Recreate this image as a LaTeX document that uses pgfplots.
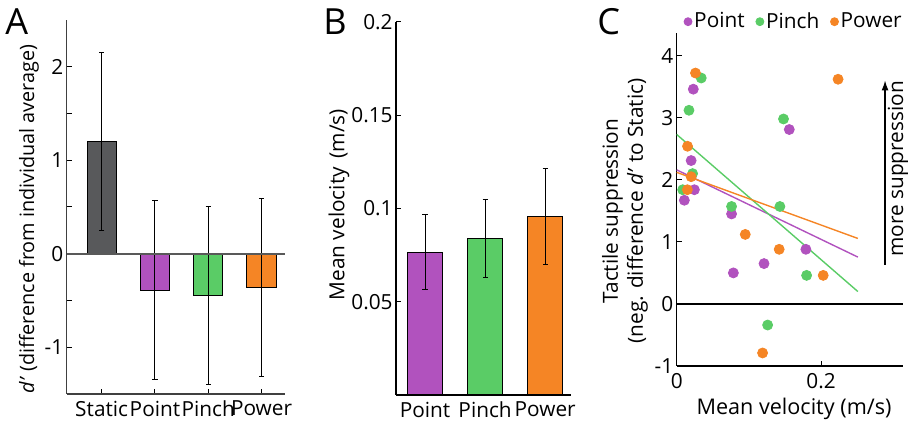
\documentclass[border=0pt]{standalone}
\usepackage{fontspec}
\setmainfont{Open Sans}
\usepackage{pgfplots}
\pgfplotsset{compat=1.18}
\usetikzlibrary{arrows.meta}
\definecolor{cgray}{RGB}{88,89,91}
\definecolor{cpurple}{RGB}{177,82,190}
\definecolor{cgreen}{RGB}{90,204,102}
\definecolor{corange}{RGB}{245,133,37}
\newcommand{\fs}{\fontsize{10.4}{12.5}\selectfont}
\pgfplotsset{
  myaxis/.style={
    scale only axis, clip=false,
    axis x line*=bottom, axis y line*=left,
    axis line style={-, line width=0.6pt},
    tick align=inside, major tick length=2.5pt, minor tick length=2.5pt,
    tick style={line width=0.5pt, black},
    /pgf/number format/assume math mode=true,
    font=\fs, ticklabel style={font=\fs}, label style={font=\fs},
    error bars/error bar style={line width=0.5pt, black},
    error bars/error mark options={rotate=90, mark size=1.3pt, line width=0.5pt, black},
  },
  mybar/.style={ybar, bar shift=0pt, draw=black, line width=0.5pt, fill=#1,
    error bars/.cd, y dir=both, y explicit},
}
\begin{document}
\begin{tikzpicture}
\useasboundingbox (0,0) rectangle (454pt,211pt);
% ---------- Panel A ----------
\begin{axis}[myaxis, at={(33.35pt,14pt)}, anchor=south west,
  width=109.15pt, height=187pt,
  xmin=0.344, xmax=4.44, ymin=-1.5, ymax=2.5,
  axis line style={black!75},
  xtick={1,2,3,4}, xticklabels={Static,Point,Pinch,Power},
  ytick={-1,0,1,2}, minor ytick={-0.5,0.5,1.5},
  yticklabel style={inner sep=1.5pt},
  ylabel={\textit{d’} (difference from individual average)},
  ylabel style={at={(axis description cs:-0.173,0.468)}, anchor=center,
    font=\fontsize{9.9}{12}\selectfont},
  bar width=14.6pt]
\addplot[mybar=cgray] coordinates {(1,1.2) +- (0,0.955)};
\addplot[mybar=cpurple] coordinates {(2,-0.39) +- (0,0.955)};
\addplot[mybar=cgreen] coordinates {(3,-0.445) +- (0,0.955)};
\addplot[mybar=corange] coordinates {(4,-0.36) +- (0,0.955)};
\draw[line width=1pt, black!65] (axis cs:0.344,0) -- (axis cs:4.44,0);
\end{axis}
\node[anchor=base west, inner sep=0pt, font=\fontsize{18}{20}\selectfont] at (2.5pt,193.5pt) {A};
% ---------- Panel B ----------
\begin{axis}[myaxis, at={(198pt,13.5pt)}, anchor=south west,
  width=87.5pt, height=186.65pt,
  xmin=0.517, xmax=3.43, ymin=0, ymax=0.2,
  xtick={1,2,3}, xticklabels={Point,Pinch,Power}, major x tick style={draw=none},
  ytick={0.05,0.1,0.15,0.2},
  yticklabel style={inner sep=1.5pt, /pgf/number format/fixed},
  ylabel={Mean velocity\, (m/s)},
  ylabel style={at={(axis description cs:-0.326,0.51)}, anchor=center},
  bar width=17.2pt]
\addplot[mybar=cpurple] coordinates {(1,0.0766) +- (0,0.020)};
\addplot[mybar=cgreen] coordinates {(2,0.084) +- (0,0.021)};
\addplot[mybar=corange] coordinates {(3,0.0955) +- (0,0.0257)};
\end{axis}
\node[anchor=base west, inner sep=0pt, font=\fontsize{18}{20}\selectfont] at (161.5pt,193.5pt) {B};
% ---------- Panel C ----------
\begin{axis}[myaxis, at={(338.35pt,28pt)}, anchor=south west,
  width=113.3pt, height=166.65pt,
  xmin=0, xmax=0.314, ymin=-1, ymax=4.37,
  xtick={0,0.2}, ytick={-1,0,1,2,3,4},
  yticklabel style={inner sep=1.5pt},
  xlabel={Mean velocity (m/s)},
  xlabel style={yshift=2pt, xshift=2pt, font=\fontsize{10.8}{12.5}\selectfont},
  ylabel={Tactile suppression\\(neg. difference \textit{d’} to Static)},
  ylabel style={align=center, at={(axis description cs:-0.228,0.465)}, anchor=center},
  legend style={at={(rel axis cs:1,1)}, anchor=south east, draw=none, fill=none,
    inner sep=0pt, font=\fs, nodes={inner sep=0.6pt},
    /tikz/every odd column/.append style={column sep=0.5pt},
    /tikz/every even column/.append style={column sep=5pt}},
  legend columns=3,
  legend image code/.code={\draw[#1] plot coordinates {(0pt,0pt)};}]
\addlegendimage{only marks, mark=*, mark size=2pt, cpurple}
\addlegendimage{only marks, mark=*, mark size=2pt, cgreen}
\addlegendimage{only marks, mark=*, mark size=2pt, corange}
\legend{Point,Pinch,Power}
\draw[line width=0.6pt, black] (axis cs:0,0) -- (axis cs:0.314,0);
% Point
\addplot[forget plot, only marks, mark=*, mark size=2.5pt, cpurple] coordinates {
(0.023,3.46) (0.020,2.31) (0.0245,1.84) (0.0106,1.67) (0.156,2.81)
(0.076,1.45) (0.0785,0.50) (0.121,0.65) (0.179,0.88)};
% Pinch
\addplot[forget plot, only marks, mark=*, mark size=2.5pt, cgreen] coordinates {
(0.034,3.64) (0.017,3.12) (0.022,2.10) (0.0083,1.84) (0.148,2.98)
(0.076,1.57) (0.143,1.57) (0.180,0.46) (0.126,-0.34)};
% Power
\addplot[forget plot, only marks, mark=*, mark size=2.5pt, corange] coordinates {
(0.026,3.72) (0.015,2.54) (0.020,2.05) (0.0148,1.84) (0.095,1.12)
(0.142,0.88) (0.203,0.46) (0.2236,3.62) (0.119,-0.79)};
% fits
\addplot[forget plot, cpurple, line width=0.7pt] coordinates {(0,2.16) (0.251,0.755)};
\addplot[forget plot, cgreen, line width=0.7pt] coordinates {(0,2.73) (0.251,0.20)};
\addplot[forget plot, corange, line width=0.7pt] coordinates {(0,2.12) (0.251,1.055)};
% annotation
\draw[line width=0.6pt, -{Latex[length=5pt,width=3.5pt]}] (axis cs:0.2887,0.63) -- (axis cs:0.2887,3.6);
\node[rotate=90, anchor=base, inner sep=0pt, font=\fs] at (axis cs:0.3137,2.175) {more suppression};
\end{axis}
\node[anchor=base west, inner sep=0pt, font=\fontsize{18}{20}\selectfont] at (298.5pt,193.5pt) {C};
\end{tikzpicture}
\end{document}
